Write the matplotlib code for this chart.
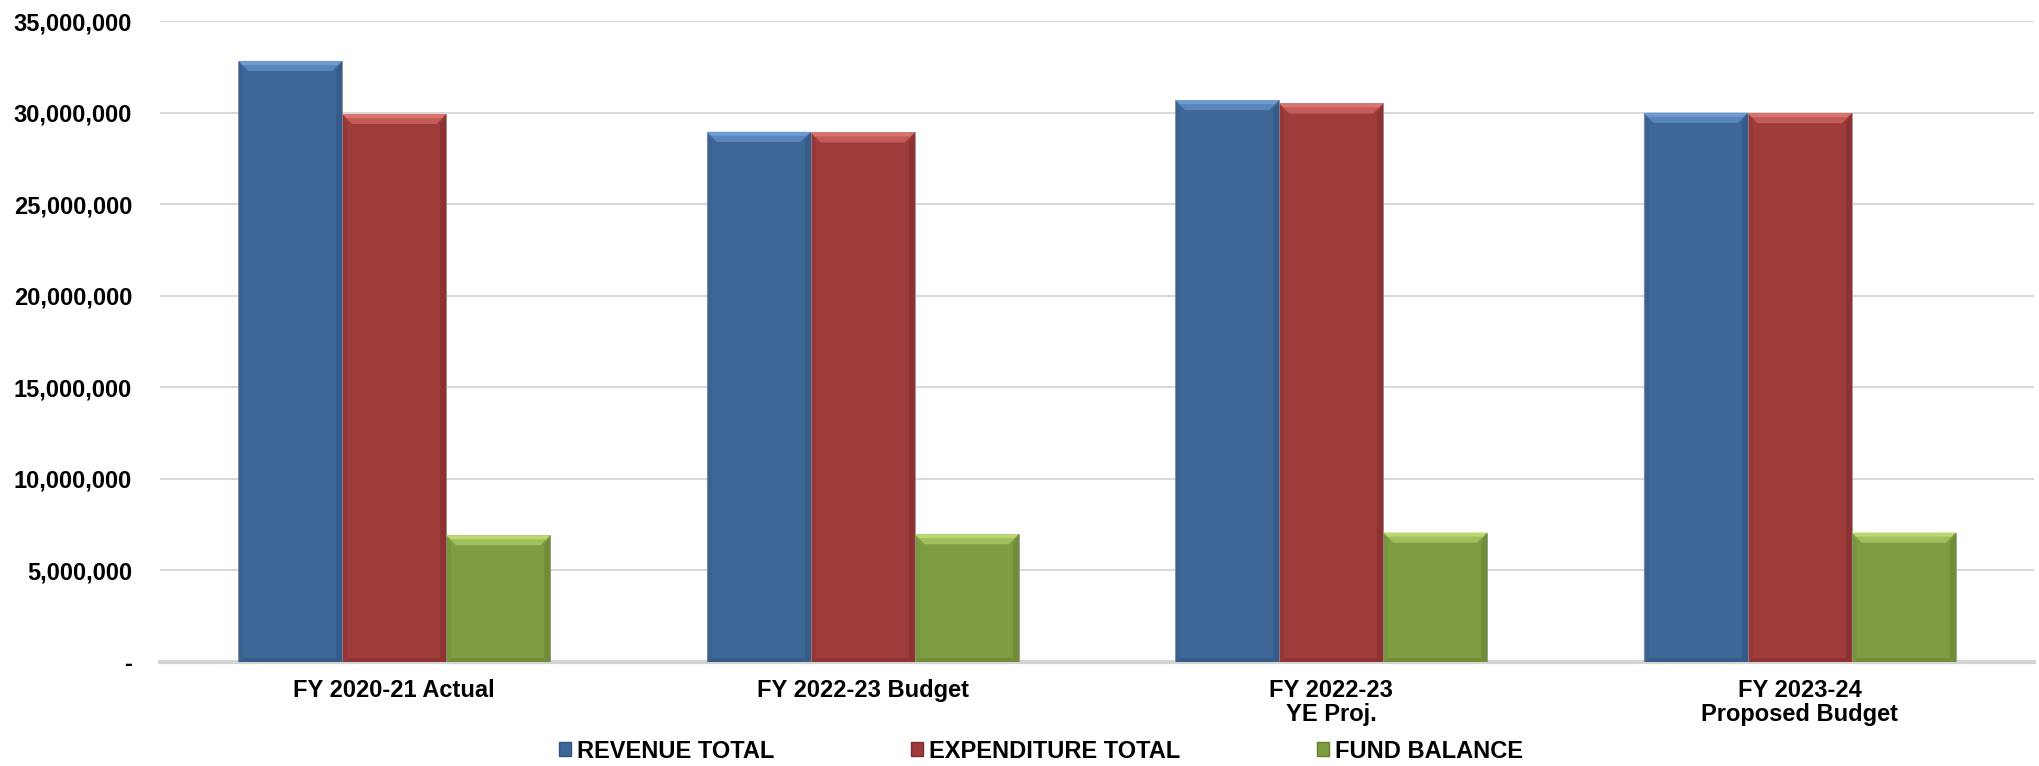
import matplotlib.pyplot as plt
import numpy as np
from matplotlib.patches import Polygon, Rectangle
from matplotlib.ticker import FuncFormatter, MultipleLocator

# fund summary by fiscal year
categories = ["FY 2020-21 Actual", "FY 2022-23 Budget", "FY 2022-23\nYE Proj.",
              "FY 2023-24\nProposed Budget"]
revenue = [32820000, 28950000, 30680000, 29990000]
expenditure = [29920000, 28920000, 30500000, 29970000]
fund_balance = [6920000, 6980000, 7070000, 7070000]

series_names = ["REVENUE TOTAL", "EXPENDITURE TOTAL", "FUND BALANCE"]
base_colors = ["#3E6797", "#9E3B3B", "#7F9C42"]
top_colors = ["#6F9BD3", "#DC726D", "#B8D870"]
side_dark = ["#2F5280", "#7E2C2C", "#64802F"]

plt.rcParams['font.family'] = ['Liberation Sans', 'DejaVu Sans']
plt.rcParams['font.weight'] = 'bold'

fig = plt.figure(figsize=(20.4, 7.66), dpi=100)
ax = fig.add_axes([160 / 2040, 1 - 662 / 766, 1874 / 2040, 641 / 766])

x = np.arange(len(categories))
w = 0.222
ymax = 35000000
ax.set_xlim(-0.5, len(categories) - 0.5)
ax.set_ylim(0, ymax)

# size of one pixel in data units, used for the bevel edges
px_x = len(categories) / 1874
px_y = ymax / 641

for i, vals in enumerate([revenue, expenditure, fund_balance]):
    bars = ax.bar(x + (i - 1) * w, vals, w, color=base_colors[i],
                  edgecolor="#9A9A9A", linewidth=0.6, zorder=3)
    for b in bars:
        x0, bw, h = b.get_x(), b.get_width(), b.get_height()
        bx, by = 10 * px_x, 10 * px_y
        # top bevel: bright rim fading into the face
        ax.add_patch(Polygon([(x0, h), (x0 + bw, h), (x0 + bw - bx, h - by),
                              (x0 + bx, h - by)], closed=True,
                             facecolor=top_colors[i], edgecolor="none", zorder=4))
        ax.add_patch(Polygon([(x0 + bx * 0.4, h - by * 0.4), (x0 + bw - bx * 0.4, h - by * 0.4),
                              (x0 + bw - bx, h - by), (x0 + bx, h - by)], closed=True,
                             facecolor=base_colors[i], alpha=0.4, edgecolor="none", zorder=4))
        # right, bottom and left sides a touch darker
        ax.add_patch(Polygon([(x0 + bw, h), (x0 + bw, 0), (x0 + bw - bx * 0.6, by * 0.4),
                              (x0 + bw - bx * 0.6, h - by)], closed=True,
                             facecolor=side_dark[i], alpha=0.55, edgecolor="none", zorder=4))
        ax.add_patch(Polygon([(x0, 0), (x0 + bw, 0), (x0 + bw - bx * 0.6, by * 0.4),
                              (x0 + bx * 0.6, by * 0.4)], closed=True,
                             facecolor=side_dark[i], alpha=0.5, edgecolor="none", zorder=4))
        ax.add_patch(Polygon([(x0, h), (x0, 0), (x0 + bx * 0.5, by * 0.4),
                              (x0 + bx * 0.5, h - by)], closed=True,
                             facecolor=side_dark[i], alpha=0.25, edgecolor="none", zorder=4))

ax.yaxis.set_major_locator(MultipleLocator(5000000))
ax.yaxis.set_major_formatter(FuncFormatter(lambda v, p: "-" if v == 0 else f"{v:,.0f}"))
ax.grid(axis="y", color="#D9D9D9", linewidth=1.5, zorder=0)
ax.set_axisbelow(True)
for s in ["top", "right", "left"]:
    ax.spines[s].set_visible(False)
ax.spines["bottom"].set_color("#D4D4D4")
ax.spines["bottom"].set_linewidth(3)
ax.spines["bottom"].set_zorder(2)

ax.tick_params(axis="y", length=0, pad=20, labelsize=17)
ax.tick_params(axis="x", length=0, pad=12, labelsize=17)
ax.set_xticks(x)
ax.set_xticklabels(categories, linespacing=1.05)

handles = [Rectangle((0, 0), 1, 1, facecolor=base_colors[i], edgecolor=side_dark[i])
           for i in range(3)]
fig.legend(handles, series_names, loc="center", bbox_to_anchor=(1041 / 2040, 1 - 751 / 766),
           ncol=3, frameon=False, fontsize=17, handlelength=0.5, handleheight=0.5,
           handletextpad=0.25, columnspacing=5.8)

fig.savefig("out.png", dpi=100)
